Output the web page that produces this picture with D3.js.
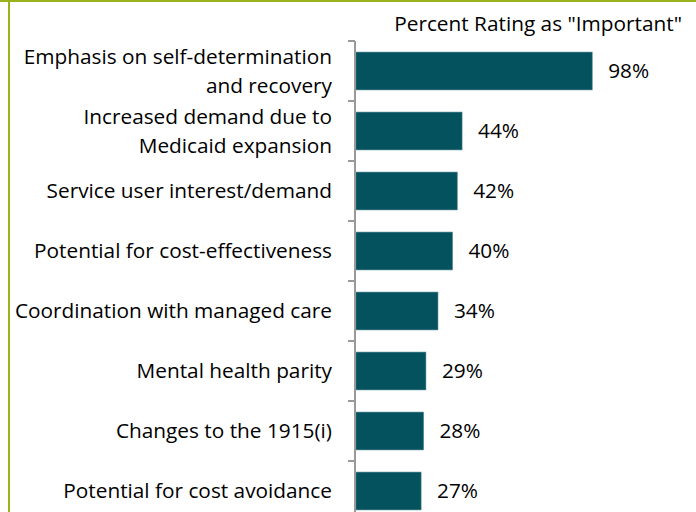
<!DOCTYPE html>
<html>
<head>
<meta charset="utf-8">
<script src="https://cdn.jsdelivr.net/npm/d3@7"></script>
<style>
  body { margin: 0; background: #fff; }
  svg text { font-family: "Open Sans", sans-serif; fill: #000; }
</style>
</head>
<body>
<svg id="chart" width="696" height="512"></svg>
<script>
// categories (each entry is a list of label lines)
var categories = [
    ["Emphasis on self-determination", "and recovery"],
    ["Increased demand due to", "Medicaid expansion"],
    ["Service user interest/demand"],
    ["Potential for cost-effectiveness"],
    ["Coordination with managed care"],
    ["Mental health parity"],
    ["Changes to the 1915(i)"],
    ["Potential for cost avoidance"]
];
var values = [98, 44, 42, 40, 34, 29, 28, 27];
var seriesTitle = 'Percent Rating as "Important"';

var data = categories.map(function(c, i) {
    return { key: c.join(" "), lines: c, value: values[i] };
});

var svg = d3.select("#chart");

// 테두리 (olive frame on top and left)
svg.append("line")
    .attr("x1", 0).attr("x2", 696).attr("y1", 1).attr("y2", 1)
    .attr("stroke", "#9bb21a").attr("stroke-width", 2);
svg.append("line")
    .attr("x1", 9).attr("x2", 9).attr("y1", 0).attr("y2", 512)
    .attr("stroke", "#9bb21a").attr("stroke-width", 2);

// scales
var x = d3.scaleLinear()
    .domain([0, 100])
    .range([356, 597]);

var y = d3.scaleBand()
    .domain(data.map(function(d) { return d.key; }))
    .range([41, 521])
    .paddingInner(0.37)
    .paddingOuter(0.185);

var step = y.step();
var bandTop = function(k) { return y(k) - y.paddingOuter() * step; };

// bars
svg.selectAll(".bar")
    .data(data)
  .enter().append("rect")
    .attr("class", "bar")
    .attr("x", x(0))
    .attr("y", function(d) { return y(d.key); })
    .attr("width", function(d) { return x(d.value) - x(0); })
    .attr("height", y.bandwidth())
    .attr("fill", "#05525f")
    .attr("stroke", "#3d7a84")
    .attr("stroke-width", 0.6);

// axis line and ticks at band boundaries
var axisG = svg.append("g").attr("class", "axis");
axisG.append("line")
    .attr("x1", 355).attr("x2", 355)
    .attr("y1", 41).attr("y2", 512)
    .attr("stroke", "#999").attr("stroke-width", 2);
axisG.selectAll(".tick")
    .data(data)
  .enter().append("line")
    .attr("class", "tick")
    .attr("x1", 348).attr("x2", 355)
    .attr("y1", function(d) { return bandTop(d.key); })
    .attr("y2", function(d) { return bandTop(d.key); })
    .attr("stroke", "#999").attr("stroke-width", 2);

// category labels
var lineH = 28.5;
var labels = svg.selectAll(".cat")
    .data(data)
  .enter().append("text")
    .attr("class", "cat")
    .attr("text-anchor", "end")
    .style("font-size", "20.8px")
    .attr("transform", function(d) {
        var c = y(d.key) + y.bandwidth() / 2;
        return "translate(332," + (c - (d.lines.length - 1) * lineH / 2) + ")";
    });
labels.selectAll("tspan")
    .data(function(d) { return d.lines; })
  .enter().append("tspan")
    .attr("x", 0)
    .attr("dy", function(d, i) { return i === 0 ? "0.35em" : lineH; })
    .text(function(d) { return d; });

// value labels
svg.selectAll(".val")
    .data(data)
  .enter().append("text")
    .attr("class", "val")
    .attr("x", function(d) { return x(d.value) + 16; })
    .attr("y", function(d) { return y(d.key) + y.bandwidth() / 2; })
    .attr("dy", "0.35em")
    .style("font-size", "20.8px")
    .text(function(d) { return d.value + "%"; });

// series title
svg.append("text")
    .attr("x", 682)
    .attr("y", 31)
    .attr("text-anchor", "end")
    .style("font-size", "20.8px")
    .text(seriesTitle);
</script>
</body>
</html>
